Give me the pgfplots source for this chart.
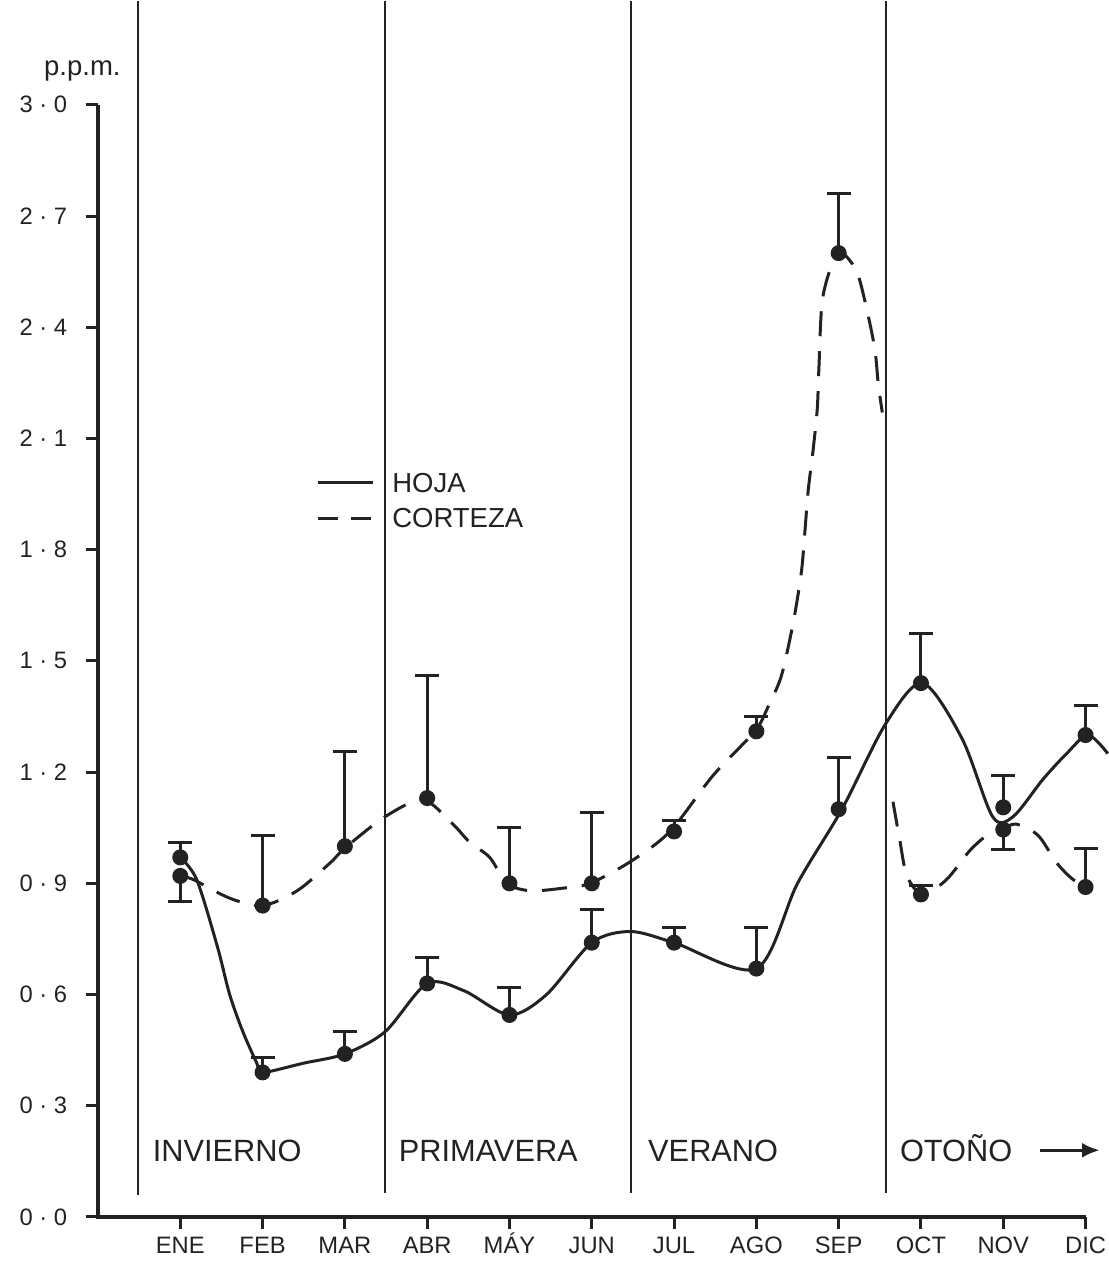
\documentclass[border=0pt]{standalone}
\usepackage{pgfplots}
\pgfplotsset{compat=1.18}
\usepackage{fontspec}
\setmainfont{Liberation Sans}
\usetikzlibrary{arrows.meta}
\definecolor{ink}{HTML}{222222}
\begin{document}
\begin{tikzpicture}
\begin{axis}[
  scale only axis,
  width=404.9pt, height=486.4pt,
  xmin=0, xmax=12.3, ymin=0, ymax=3.28,
  clip=false,
  axis lines*=left,
  axis line style={draw=none},
  tick align=outside,
  major tick length=4.8pt,
  tick style={ink, line width=1.2pt},
  xtick={1,2,3,4,5,6,7,8,9,10,11,12},
  xticklabels={ENE,FEB,MAR,ABR,MÁY,JUN,JUL,AGO,SEP,OCT,NOV,DIC},
  ytick={0,0.3,0.6,0.9,1.2,1.5,1.8,2.1,2.4,2.7,3.0},
  yticklabels={0~·~0,0~·~3,0~·~6,0~·~9,1~·~2,1~·~5,1~·~8,2~·~1,2~·~4,2~·~7,3~·~0},
  xticklabel style={font=\fontsize{9.5}{11}\selectfont, text=ink, anchor=base, yshift=-9.6pt},
  yticklabel style={font=\fontsize{9.5}{11}\selectfont, text=ink, xshift=-4pt},
  error bars/error mark=|,
]
% axis lines
\addplot[ink, line width=1.6pt] coordinates {(0,3.0) (0,0) (12,0)};
% season separators
\addplot[ink, line width=0.8pt] coordinates {(0.49,0.06) (0.49,3.28)};
\addplot[ink, line width=0.8pt] coordinates {(3.49,0.065) (3.49,3.28)};
\addplot[ink, line width=0.8pt] coordinates {(6.48,0.065) (6.48,3.28)};
\addplot[ink, line width=0.8pt] coordinates {(9.57,0.065) (9.57,3.28)};

% HOJA curve
\addplot[ink, line width=1.2pt, smooth] coordinates {
(1,0.97) (1.2,0.91) (1.45,0.73) (1.6,0.60) (1.76,0.50) (1.93,0.415) (2.0,0.39)
(2.5,0.415) (3,0.44) (3.49,0.50) (4,0.63) (4.45,0.61) (5,0.545) (5.45,0.60)
(6,0.74) (6.47,0.77) (7,0.74) (8,0.67) (8.5,0.90) (9.04,1.10) (9.57,1.33)
(10.02,1.44) (10.5,1.29) (10.87,1.08) (11.12,1.08) (11.48,1.18) (11.77,1.25)
(12.03,1.30) (12.27,1.25)};

% CORTEZA curve (two pieces)
\addplot[ink, line width=1.2pt, smooth, dash pattern=on 10pt off 6pt] coordinates {
(1,0.92) (1.16,0.91) (1.6,0.86) (2,0.84) (2.42,0.88) (2.82,0.955) (3,0.995)
(3.49,1.08) (3.95,1.125) (4.31,1.06) (4.52,1.01) (4.76,0.97) (4.97,0.90)
(5.25,0.88) (5.65,0.887) (5.98,0.90) (6.48,0.96) (6.95,1.04) (7.47,1.19)
(7.98,1.31) (8.14,1.375) (8.29,1.45) (8.38,1.53) (8.47,1.63) (8.55,1.745)
(8.59,1.85) (8.63,1.96) (8.69,2.07) (8.74,2.18) (8.76,2.29) (8.80,2.47)
(8.92,2.57) (9.04,2.60) (9.22,2.55) (9.34,2.45) (9.44,2.34) (9.48,2.25) (9.53,2.17)};
\addplot[ink, line width=1.2pt, smooth, dash pattern=on 10pt off 6pt] coordinates {
(9.66,1.12) (9.74,1.02) (9.83,0.92) (10.02,0.87) (10.31,0.91) (10.6,0.99)
(10.84,1.036) (10.98,1.044) (11.15,1.06) (11.42,1.03) (11.65,0.955) (11.85,0.91) (12.03,0.89)};

% HOJA markers with error bars
\addplot[ink, only marks, mark=*, mark size=3pt,
  error bars/.cd, y dir=plus, y explicit,
  error bar style={line width=1.2pt},
  error mark options={mark size=4.8pt, line width=1.2pt}]
coordinates {
(1,0.97) +- (0,0.04)
(2,0.39) +- (0,0.04)
(3,0.44) +- (0,0.06)
(4,0.63) +- (0,0.07)
(5,0.545) +- (0,0.075)
(6,0.74) +- (0,0.09)
(7,0.74) +- (0,0.04)
(8,0.67) +- (0,0.11)
(9,1.10) +- (0,0.14)
(10,1.44) +- (0,0.135)
(11,1.105) +- (0,0.085)
(12,1.30) +- (0,0.08)};

% CORTEZA markers, error bars upward
\addplot[ink, only marks, mark=*, mark size=3pt,
  error bars/.cd, y dir=plus, y explicit,
  error bar style={line width=1.2pt},
  error mark options={mark size=4.8pt, line width=1.2pt}]
coordinates {
(2,0.84) +- (0,0.19)
(3,1.0) +- (0,0.255)
(4,1.13) +- (0,0.33)
(5,0.90) +- (0,0.15)
(6,0.90) +- (0,0.19)
(7,1.04) +- (0,0.03)
(8,1.31) +- (0,0.04)
(9,2.60) +- (0,0.16)
(10,0.87) +- (0,0.025)
(12,0.89) +- (0,0.105)};

% CORTEZA markers, error bars downward
\addplot[ink, only marks, mark=*, mark size=3pt,
  error bars/.cd, y dir=minus, y explicit,
  error bar style={line width=1.2pt},
  error mark options={mark size=4.8pt, line width=1.2pt}]
coordinates {
(1,0.92) +- (0,0.07)
(11,1.045) +- (0,0.055)};

% legend
\addplot[ink, line width=1.2pt] coordinates {(2.67,1.98) (3.34,1.98)};
\addplot[ink, line width=1.2pt, dash pattern=on 8pt off 5.5pt] coordinates {(2.67,1.885) (3.34,1.885)};
\node[anchor=west, font=\fontsize{11}{13}\selectfont, text=ink, inner sep=0pt] at (axis cs:3.57,1.98) {HOJA};
\node[anchor=west, font=\fontsize{11}{13}\selectfont, text=ink, inner sep=0pt] at (axis cs:3.57,1.885) {CORTEZA};

% season labels
\node[anchor=base west, font=\fontsize{12.3}{14}\selectfont, text=ink, inner sep=0pt] at (axis cs:0.66,0.15) {INVIERNO};
\node[anchor=base west, font=\fontsize{12.3}{14}\selectfont, text=ink, inner sep=0pt] at (axis cs:3.65,0.15) {PRIMAVERA};
\node[anchor=base west, font=\fontsize{12.3}{14}\selectfont, text=ink, inner sep=0pt] at (axis cs:6.68,0.15) {VERANO};
\node[anchor=base west, font=\fontsize{12.3}{14}\selectfont, text=ink, inner sep=0pt] at (axis cs:9.74,0.15) {OTOÑO};
\draw[ink, line width=1.2pt, -{Latex[length=7pt,width=6pt]}] (axis cs:11.45,0.18) -- (axis cs:12.17,0.18);

% unit label
\node[font=\fontsize{11}{13}\selectfont, text=ink, inner sep=0pt] at (axis cs:-0.19,3.09) {p.p.m.};
\end{axis}
\pgfresetboundingbox
\path (-39.2pt,-20.4pt) rectangle (404.4pt,486.8pt);
\end{tikzpicture}
\end{document}
